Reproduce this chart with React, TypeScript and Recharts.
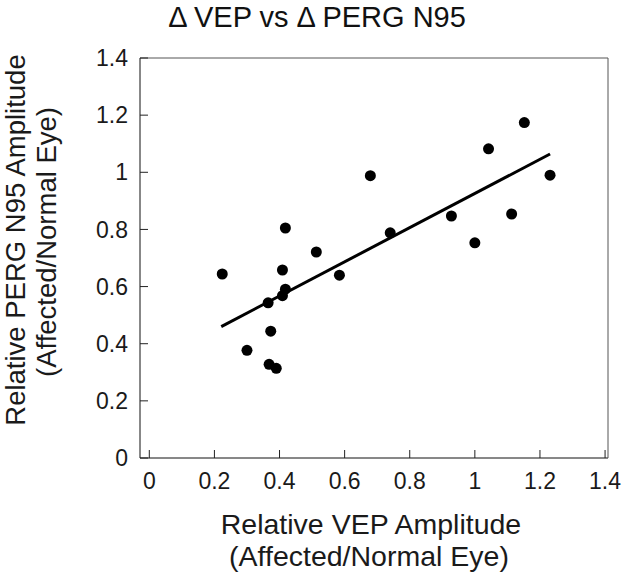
import React from 'react';
import { ScatterChart, Scatter, XAxis, YAxis, ReferenceLine, Label } from 'recharts';

const vepRatio = [0.224, 0.30, 0.368, 0.39, 0.373, 0.365, 0.409, 0.418, 0.409, 0.418, 0.513, 0.584, 0.679, 0.74, 0.928, 1.0, 1.042, 1.152, 1.113, 1.231];
const pergRatio = [0.644, 0.377, 0.328, 0.314, 0.444, 0.543, 0.568, 0.591, 0.658, 0.805, 0.721, 0.640, 0.988, 0.788, 0.847, 0.753, 1.082, 1.174, 0.854, 0.99];
const fitX = [0.221, 1.231];
const fitY = [0.46, 1.064];
const axisTicks = [0, 0.2, 0.4, 0.6, 0.8, 1, 1.2, 1.4];
const titleText = 'Δ VEP vs Δ PERG N95';
const xTitle = ['Relative VEP Amplitude', '(Affected/Normal Eye)'];
const yTitle = ['Relative PERG N95 Amplitude', '(Affected/Normal Eye)'];

const points = vepRatio.map((x, i) => ({ x, y: pergRatio[i] }));
const fitSegment = fitX.map((x, i) => ({ x, y: fitY[i] }));

const FONT = '"Liberation Sans", Arial, sans-serif';
const tickStyle = { fontFamily: FONT, fontSize: 23, fill: '#1a1a1a' };

const Dot = (props: any) => <circle cx={props.cx} cy={props.cy} r={5.5} fill="#000" />;

export default function App() {
  return (
    <div style={{ position: 'absolute', left: 0, top: 0, background: '#fff' }}>
      <ScatterChart width={622} height={581} margin={{ top: 57, right: 13, bottom: 0, left: 0 }}>
        <XAxis
          xAxisId="bottom"
          type="number"
          dataKey="x"
          orientation="bottom"
          domain={[-0.0286, 1.409]}
          allowDataOverflow
          ticks={axisTicks}
          height={123}
          tickSize={-8}
          tickMargin={23}
          tick={tickStyle}
          axisLine={{ stroke: '#111', strokeWidth: 1 }}
          tickLine={{ stroke: '#222' }}
        >
          <Label
            content={() => (
              <g fontFamily={FONT} fontSize={28.5} fill="#1a1a1a" textAnchor="middle">
                <text x={371} y={534}>{xTitle[0]}</text>
                <text x={369} y={566}>{xTitle[1]}</text>
              </g>
            )}
          />
        </XAxis>
        <XAxis
          xAxisId="top"
          type="number"
          dataKey="x"
          orientation="top"
          domain={[-0.0286, 1.409]}
          allowDataOverflow
          ticks={axisTicks}
          height={1}
          tickSize={-8}
          tick={false}
          axisLine={{ stroke: '#555', strokeWidth: 1 }}
          tickLine={{ stroke: '#444' }}
        >
          <Label
            content={() => (
              <text x={317} y={27} fontFamily={FONT} fontSize={29} fill="#111" textAnchor="middle">
                {titleText}
              </text>
            )}
          />
        </XAxis>
        <YAxis
          yAxisId="left"
          type="number"
          dataKey="y"
          orientation="left"
          domain={[0, 1.4]}
          allowDataOverflow
          ticks={axisTicks}
          width={140}
          tickSize={-8}
          tickMargin={20}
          tick={tickStyle}
          axisLine={{ stroke: '#111', strokeWidth: 1 }}
          tickLine={{ stroke: '#222' }}
        >
          <Label
            content={() => (
              <g fontFamily={FONT} fontSize={27.5} fill="#1a1a1a" textAnchor="middle">
                <text x={25} y={240} transform="rotate(-90 25 240)">{yTitle[0]}</text>
                <text x={56} y={242} transform="rotate(-90 56 242)">{yTitle[1]}</text>
              </g>
            )}
          />
        </YAxis>
        <YAxis
          yAxisId="right"
          type="number"
          dataKey="y"
          orientation="right"
          domain={[0, 1.4]}
          allowDataOverflow
          ticks={axisTicks}
          width={1}
          tickSize={-8}
          tick={false}
          axisLine={{ stroke: '#555', strokeWidth: 1 }}
          tickLine={{ stroke: '#444' }}
        />
        <ReferenceLine
          xAxisId="bottom"
          yAxisId="left"
          segment={fitSegment}
          stroke="#000"
          strokeWidth={3}
        />
        <Scatter
          xAxisId="bottom"
          yAxisId="left"
          data={points}
          fill="#000"
          shape={Dot}
          isAnimationActive={false}
        />
      </ScatterChart>
    </div>
  );
}
